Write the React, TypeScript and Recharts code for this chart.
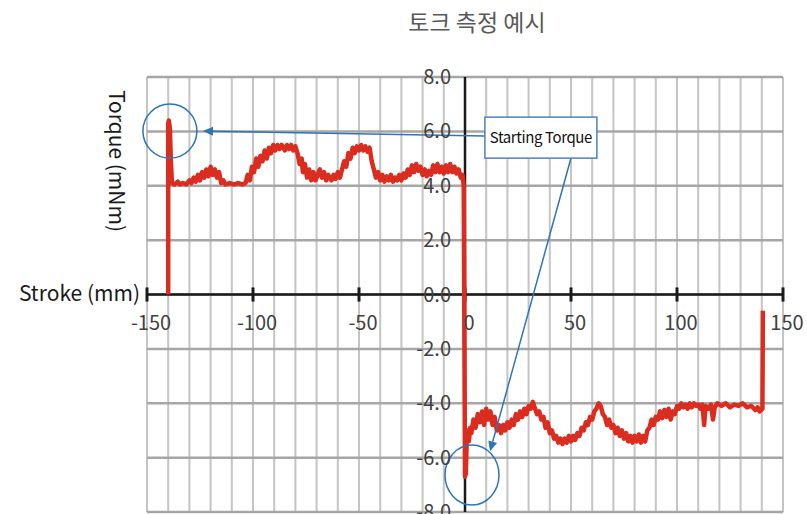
import React from 'react'
import { LineChart, Line, XAxis, YAxis, ReferenceLine, ReferenceDot } from 'recharts'

// forward stroke: -140 mm -> 0 mm
const leftStroke = [
  -140, -140, -139.7, -139.2, -138.7, -138.2, -137, -135.5, -134.5, -133, -131.5, -130,
  -129, -128, -127, -126, -125, -124, -123, -122, -121, -120, -119, -118, -117, -116, -115, -114, -113,
  -111, -109, -107, -105, -103.5, -102.5, -101.5, -100.5, -99.5, -98.5, -97.5, -96.5, -95.5, -94.5,
  -93.5, -92.5, -91.5, -90.5, -89.5, -88.5, -87.5, -86.5, -85, -84, -83, -82, -81, -80, -79, -78, -77,
  -76.5, -75.5, -74.5, -73.5, -72.5, -71.5, -70.5, -69.5, -68.5, -67.5, -66.5, -65.5, -64.5, -63,
  -62, -61, -60, -59, -58, -57, -56, -55, -54, -53, -52, -51, -50, -49, -48, -47, -46, -45, -44, -43,
  -42, -41, -40, -39, -38, -37, -36, -35, -34, -33, -32, -31, -30, -29, -28, -27, -26, -25, -24, -23,
  -22, -21, -20, -19, -18, -17, -16, -15, -14, -13, -12, -11, -10, -9, -8, -7, -6, -5, -4, -3, -2,
  -1.2, -0.6,
]
const leftTorque = [
  0, 6.3, 6.4, 6.1, 4.8, 4.1, 4.05, 4.15, 4.05, 4.1, 4.05, 4.2,
  4.1, 4.3, 4.15, 4.4, 4.2, 4.5, 4.3, 4.6, 4.35, 4.7, 4.4, 4.6, 4.3, 4.5, 4.1, 4.2, 4.05,
  4.1, 4.05, 4.1, 4.05, 4.1, 4.4, 4.2, 4.7, 4.5, 5.0, 4.7, 5.1, 4.9, 5.3,
  5.0, 5.4, 5.2, 5.5, 5.3, 5.5, 5.35, 5.5, 5.3, 5.5, 5.35, 5.5, 5.3, 5.45, 5.2, 4.8, 5.0,
  4.5, 4.8, 4.3, 4.6, 4.2, 4.5, 4.2, 4.4, 4.6, 4.3, 4.5, 4.2, 4.4, 4.2,
  4.4, 4.25, 4.5, 4.3, 4.6, 4.9, 4.7, 5.2, 5.0, 5.4, 5.2, 5.45, 5.3, 5.5, 5.3, 5.45, 5.25, 5.4, 4.9, 4.6,
  4.3, 4.5, 4.2, 4.4, 4.15, 4.35, 4.2, 4.4, 4.15, 4.3, 4.2, 4.4, 4.2, 4.45, 4.3, 4.6, 4.4, 4.75, 4.5, 4.8,
  4.55, 4.7, 4.4, 4.6, 4.35, 4.55, 4.4, 4.75, 4.5, 4.8, 4.5, 4.7, 4.45, 4.75, 4.5, 4.8, 4.5, 4.7, 4.45, 4.6, 4.3,
  4.4, 4.0,
]

// return stroke: 0 mm -> 140 mm
const rightStroke = [
  0, 0.4, 0.8, 1.3, 1.8, 2.5, 3, 4, 5, 6, 7, 8, 9, 10, 11, 12, 13, 14, 15, 16, 17, 18, 19, 20,
  21, 22, 23, 24, 25, 26, 27, 28, 29, 30, 31, 32, 33, 34, 35, 36, 37, 38, 39, 40,
  41, 42, 43, 44, 45, 46, 47, 48, 49, 50, 51, 52, 53, 54, 55, 56, 57, 58, 59, 60,
  61, 62, 63, 64, 65, 66, 67, 68, 69, 70, 71, 72, 73, 74, 75, 76, 77, 78, 79, 80,
  81, 82, 83, 84, 85, 86, 87, 88, 89, 90, 91, 92, 93, 94, 95, 96, 97, 98, 99, 100,
  101, 102, 103, 104, 105, 106, 107, 108, 109, 110, 111, 112, 112.8, 113.5, 115, 116, 117, 117.8,
  119, 121, 123, 125, 127, 129, 131, 133, 135, 137, 138, 139, 140.3, 140.5,
]
const rightTorque = [
  -6.7, -6.6, -5.4, -5.0, -5.4, -4.9, -5.1, -4.6, -4.9, -4.4, -4.7, -4.3, -4.8, -4.2, -4.6, -4.3, -4.8, -4.5, -5.0, -4.8, -5.1, -4.8, -5.0, -4.7,
  -4.9, -4.6, -4.8, -4.4, -4.6, -4.3, -4.5, -4.2, -4.4, -4.1, -4.2, -3.95, -4.2, -4.4, -4.3, -4.6, -4.5, -4.9, -4.7, -5.1,
  -5.0, -5.3, -5.2, -5.45, -5.3, -5.5, -5.3, -5.45, -5.2, -5.4, -5.2, -5.35, -5.1, -5.2, -4.9, -5.0, -4.7, -4.8, -4.5, -4.6,
  -4.3, -4.2, -4.0, -4.1, -4.4, -4.5, -4.8, -4.6, -4.9, -4.8, -5.1, -4.9, -5.2, -5.0, -5.3, -5.1, -5.4, -5.2, -5.45, -5.2,
  -5.4, -5.15, -5.45, -5.2, -5.4, -5.0, -4.9, -4.6, -4.8, -4.5, -4.6, -4.3, -4.55, -4.25, -4.5, -4.2, -4.6, -4.3, -4.4, -4.1,
  -4.2, -4.0, -4.15, -4.05, -4.2, -4.0, -4.15, -4.0, -4.1, -4.05, -4.2, -4.05, -4.8, -4.1, -4.2, -4.05, -4.6, -4.15,
  -4.0, -4.1, -4.0, -4.15, -4.05, -4.1, -4.0, -4.15, -4.1, -4.25, -4.15, -4.3, -4.2, -0.6,
]

const xTicks = [-150, -100, -50, 0, 50, 100, 150]
const yTicks = [-8, -6, -4, -2, 0, 2, 4, 6, 8]
const xGridLines = [
  -150, -140, -130, -120, -110, -100, -90, -80, -70, -60, -50, -40, -30, -20, -10, 0,
  10, 20, 30, 40, 50, 60, 70, 80, 90, 100, 110, 120, 130, 140, 150,
]
const chartTitle = '토크 측정 예시'
const xTitle = 'Stroke (mm)'
const yTitle = 'Torque (mNm)'
const calloutLabel = 'Starting Torque'

const data = [
  ...leftStroke.map((s, i) => ({ stroke: s, torque: leftTorque[i] })),
  ...rightStroke.map((s, i) => ({ stroke: s, torque: rightTorque[i] })),
]

const FONT = '"Noto Sans CJK KR", "Noto Sans", sans-serif'
const W = 807
const H = 560
const margin = { top: 77, right: 24, bottom: 18, left: 87 }
const Y_AXIS_W = 60
const X_AXIS_H = 30
const plotLeft = margin.left + Y_AXIS_W
const plotW = W - margin.right - plotLeft
const plotTop = margin.top
const plotH = H - margin.bottom - X_AXIS_H - margin.top
const zeroX = plotLeft + (plotW * 150) / 300
const zeroY = plotTop + (plotH * 8) / 16

const BLUE = '#2e75b6'
const RED = '#da2c1f'

// annotation anchors (data units)
const callout = { x: 35.8, y: 5.77, w: 112, h: 41 }
const arrows = [
  { from: { x: 9.4, y: 5.83 }, to: { x: -123.6, y: 6.01 } },
  { from: { x: 50, y: 5.02 }, to: { x: 11.8, y: -5.77 } },
]
const rings = [
  { x: -139.2, y: 6.01, rx: 27, ry: 27 },
  { x: 3.3, y: -6.64, rx: 27, ry: 30 },
]

const XTick = (p: any) => (
  <text x={p.x + 4} y={zeroY + 35} textAnchor="middle" fill="#404040" fontSize={20} fontFamily={FONT}>
    {p.payload.value}
  </text>
)

const YTick = (p: any) => (
  <text x={zeroX - 14} y={p.y + 7} textAnchor="end" fill="#404040" fontSize={20} fontFamily={FONT}>
    {Number(p.payload.value).toFixed(1)}
  </text>
)

const Arrow = (p: any) => {
  const { x1, y1, x2, y2 } = p
  const a = Math.atan2(y2 - y1, x2 - x1)
  const len = 10
  const half = 4.5
  const bx = x2 - len * Math.cos(a)
  const by = y2 - len * Math.sin(a)
  const pts = `${x2},${y2} ${bx + half * Math.sin(a)},${by - half * Math.cos(a)} ${bx - half * Math.sin(a)},${by + half * Math.cos(a)}`
  return (
    <g>
      <line x1={x1} y1={y1} x2={bx} y2={by} stroke={BLUE} strokeWidth={1.5} />
      <polygon points={pts} fill={BLUE} />
    </g>
  )
}

export default function App() {
  return (
    <div style={{ position: 'absolute', left: 0, top: 0, width: 807, height: 514, overflow: 'hidden', background: '#fff' }}>
      <LineChart width={W} height={H} data={data} margin={margin}>
        <XAxis
          type="number"
          dataKey="stroke"
          domain={[-150, 150]}
          ticks={xTicks}
          interval={0}
          allowDataOverflow
          axisLine={false}
          tickLine={false}
          height={X_AXIS_H}
          tick={XTick}
        />
        <YAxis
          type="number"
          domain={[-8, 8]}
          ticks={yTicks}
          interval={0}
          allowDataOverflow
          axisLine={false}
          tickLine={false}
          width={Y_AXIS_W}
          tick={YTick}
        />
        {xGridLines.map((x) => (
          <ReferenceLine key={'vx' + x} x={x} stroke="#c4c4c4" strokeWidth={2} />
        ))}
        {yTicks.map((y) => (
          <ReferenceLine key={'hy' + y} y={y} stroke="#a6a6a6" strokeWidth={2.5} />
        ))}
        <ReferenceLine y={0} stroke="#1a1a1a" strokeWidth={2.5} />
        <ReferenceLine x={0} stroke="#1a1a1a" strokeWidth={2.5} />
        {xTicks.map((x) => (
          <ReferenceLine
            key={'tk' + x}
            segment={[{ x, y: -0.26 }, { x, y: 0.26 }]}
            stroke="#1a1a1a"
            strokeWidth={3}
          />
        ))}
        <Line
          type="linear"
          dataKey="torque"
          stroke={RED}
          strokeWidth={4.5}
          strokeLinejoin="round"
          dot={false}
          isAnimationActive={false}
        />
        {rings.map((r, i) => (
          <ReferenceDot
            key={'ring' + i}
            x={r.x}
            y={r.y}
            r={r.rx}
            shape={(p: any) => (
              <ellipse cx={p.cx} cy={p.cy} rx={r.rx} ry={r.ry} fill="none" stroke={BLUE} strokeWidth={1.5} />
            )}
          />
        ))}
        {arrows.map((a, i) => (
          <ReferenceLine key={'ar' + i} segment={[a.from, a.to]} shape={Arrow} />
        ))}
        <ReferenceDot
          x={callout.x}
          y={callout.y}
          r={1}
          shape={(p: any) => (
            <g>
              <rect
                x={p.cx - callout.w / 2}
                y={p.cy - callout.h / 2}
                width={callout.w}
                height={callout.h}
                fill="#fff"
                stroke="#4f81bd"
                strokeWidth={1.5}
              />
              <text x={p.cx} y={p.cy + 5} textAnchor="middle" fontSize={15} letterSpacing={-0.4} fill="#111" fontFamily={FONT}>
                {calloutLabel}
              </text>
            </g>
          )}
        />
      </LineChart>
      <svg width={807} height={514} style={{ position: 'absolute', left: 0, top: 0, pointerEvents: 'none' }}>
        <text x={477} y={31} textAnchor="middle" fontSize={23} fill="#595959" fontFamily={FONT}>
          {chartTitle}
        </text>
        <text x={plotLeft - 7} y={zeroY + 6} textAnchor="end" fontSize={21} fill="#1a1a1a" fontFamily={FONT}>
          {xTitle}
        </text>
        <text
          transform={`translate(117.5, 161) rotate(90)`}
          textAnchor="middle"
          dominantBaseline="central"
          fontSize={21}
          fill="#1a1a1a"
          fontFamily={FONT}
        >
          {yTitle}
        </text>
      </svg>
    </div>
  )
}
